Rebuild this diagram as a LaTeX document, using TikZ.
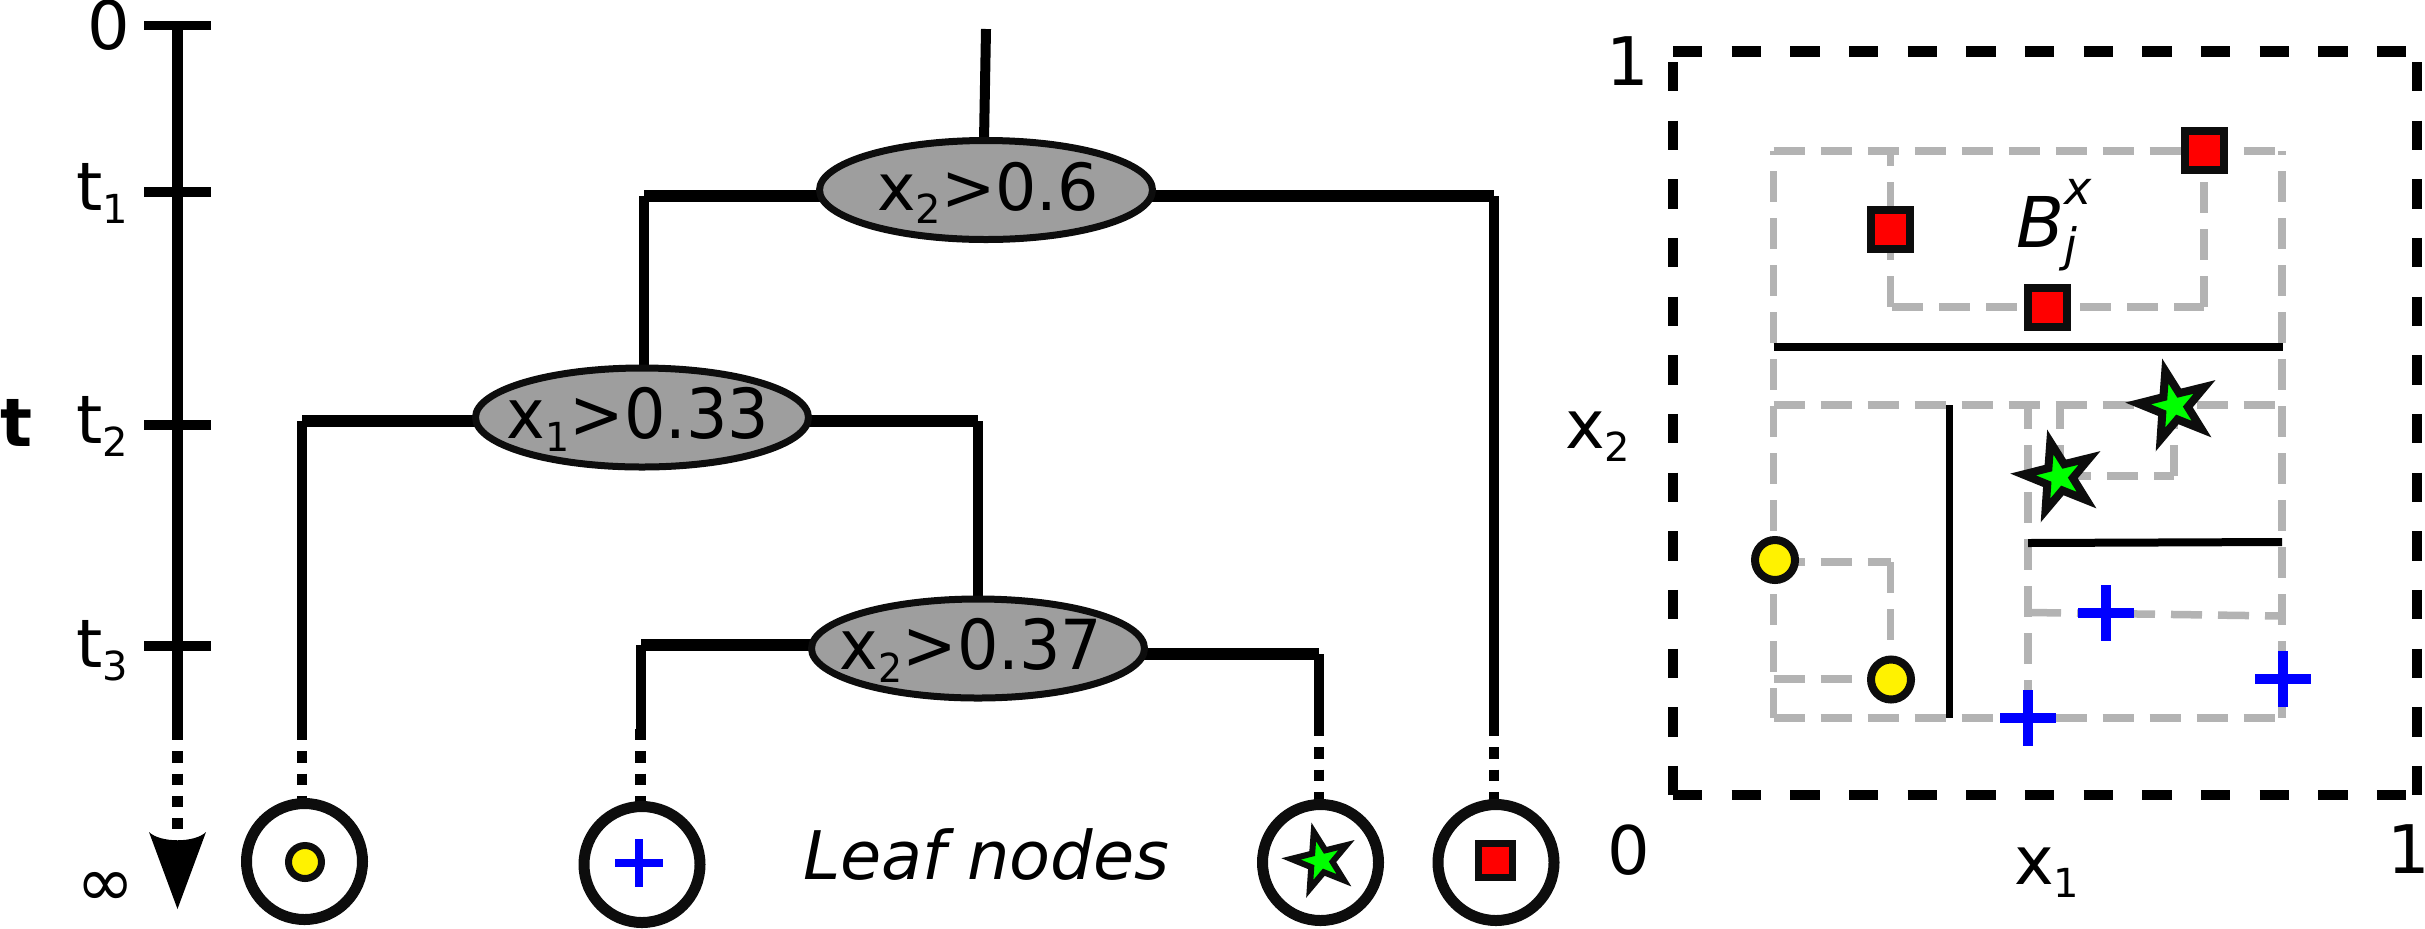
\documentclass[tikz,border=0pt]{standalone}
\usepackage{fontspec}
\setmainfont{DejaVu Sans}
\usetikzlibrary{shapes.geometric,backgrounds}
\newcommand\lowsub[1]{\raisebox{-6.5pt}{\fontsize{20}{24}\selectfont #1}}
\tikzset{
  lbl/.style={anchor=base west,inner sep=0pt,outer sep=0pt,font=\fontsize{33.5}{40}\selectfont},
  ell/.style={ellipse,draw=black!95,fill=ellgray,line width=3.5pt,inner sep=0pt,outer sep=0pt,minimum width=166.5pt,minimum height=49.5pt,text height=25pt,text depth=4.3pt,font=\fontsize{32.5}{40}\selectfont},
  tall/.style={font=\fontsize{34.5}{40}\selectfont},
  branch/.style={line width=5.25pt,black},
  hbranch/.style={line width=5.7pt,black},
  vbranch/.style={line width=5pt,black},
  leafdash/.style={line width=5.25pt,black,dash pattern=on 5.6pt off 5.55pt},
  tick/.style={line width=4.6pt,black},
  leaf/.style={circle,draw=black!95,fill=white,line width=5.5pt,inner sep=0pt,outer sep=0pt,minimum size=58pt},
  dot/.style={circle,draw=black!95,fill=yellow,inner sep=0pt,outer sep=0pt},
  sq/.style={rectangle,draw=black!95,fill=red,inner sep=0pt,outer sep=0pt},
  starmark/.style={star,star points=5,star point ratio=2.6,shape border rotate=14,draw=black!95,fill=green,inner sep=0pt,outer sep=0pt},
  frameline/.style={line width=5.2pt,black,dash pattern=on 14.7pt off 14.63pt},
  gridline/.style={line width=3.75pt,boxgray,dash pattern=on 15.5pt off 8pt},
  split/.style={line width=4pt,black},
  crossbar/.style={line width=5.3pt,blue},
}
\definecolor{ellgray}{HTML}{9E9E9E}
\definecolor{boxgray}{HTML}{B3B3B3}
\begin{document}
\begin{tikzpicture}[x=0.5pt,y=-0.5pt]
\useasboundingbox (0,0) rectangle (2425,928);
% time axis
\coordinate (axTop) at (177.5,26);
\coordinate (axSolid) at (177.5,729);
\coordinate (axDash) at (177.5,830);
\coordinate (tickA) at (144,25.7);\coordinate (tickAe) at (211,25.7);
\coordinate (tickB) at (144,192);\coordinate (tickBe) at (211,192);
\coordinate (tickC) at (144,425);\coordinate (tickCe) at (211,425);
\coordinate (tickD) at (144,646);\coordinate (tickDe) at (211,646);
\draw[branch] (axTop) -- (axSolid);
\draw[leafdash] (axSolid) -- (axDash);
\draw[tick] (tickA) -- (tickAe);
\draw[tick] (tickB) -- (tickBe);
\draw[tick] (tickC) -- (tickCe);
\draw[tick] (tickD) -- (tickDe);
\fill[black] (149,832) .. controls (160,843) and (195,843) .. (206,832) -- (177.5,909) -- cycle;
\node[lbl] (lzero) at (87,49) {0};
\node[lbl] (lt1) at (76,210) {t\lowsub{1}};
\node[lbl] (lt2) at (76,443) {t\lowsub{2}};
\node[lbl] (lt3) at (76,667) {t\lowsub{3}};
\node[lbl] (lbt) at (0,446) {\bfseries t};
\node[lbl,font=\fontsize{35}{42}\selectfont] (linf) at (76.5,906) {∞};
% tree nodes
\node[ell] (e1) at (986,190) {\makebox[0pt]{x\lowsub{2}>0.6\kern-2pt}};
\node[ell,tall] (e2) at (642,417.5) {\makebox[0pt]{\scalebox{.945}[1]{x\lowsub{1}>0.33}\kern4pt}};
\node[ell,tall] (e3) at (978,648.5) {\makebox[0pt]{\scalebox{.945}[1]{x\lowsub{2}>0.37}\kern7pt}};
\node[leaf] (l1) at (304.5,861.5) {};
\node[leaf] (l2) at (642,864.5) {};
\node[leaf] (l3) at (1320.5,862.5) {};
\node[leaf] (l4) at (1496,862.5) {};
\node[dot,line width=3.5pt,minimum size=16.5pt] (m1) at (305,862) {};
\draw[crossbar,line width=4.4pt] (639,863) +(-24,0) -- +(24,0) +(0,-24) -- +(0,24);
\node[starmark,line width=3pt,minimum size=30pt] (m3) at (1321,861) {};
\node[sq,line width=3.3pt,minimum size=17.2pt] (m4) at (1495.5,860.5) {};
\node[lbl] (leafcap) at (803,879) {\itshape Leaf nodes};
% tree connectors
\coordinate (rootTop) at (986,29);
\coordinate (cA) at (302,421);\coordinate (dA) at (302,729);
\coordinate (cB) at (644,196);
\coordinate (cC) at (1494,196);\coordinate (dC) at (1494,725);
\coordinate (cD) at (977.5,421);
\coordinate (cE) at (640.5,645);\coordinate (dE) at (640.5,729);
\coordinate (cF) at (1319,654);\coordinate (dF) at (1319,725);
\begin{scope}[on background layer]
\draw[vbranch] (rootTop) -- ([xshift=-1pt]e1.north);
\draw[hbranch] (e1 |- cB) -- (cB);
\draw[vbranch] (cB) -- (cB |- e2.north);
\draw[hbranch] (e1 |- cC) -- (cC);
\draw[vbranch] (cC) -- (dC);
\draw[hbranch] (e2 |- cA) -- (cA);
\draw[branch] (cA) -- (dA);
\draw[hbranch] (e2 |- cD) -- (cD);
\draw[vbranch] (cD) -- (cD |- e3.north);
\draw[hbranch] (e3 |- cE) -- (cE);
\draw[vbranch] (cE) -- (dE);
\draw[hbranch] (e3 |- cF) -- (cF);
\draw[vbranch] (cF) -- (dF);
\draw[leafdash] (dA) -- (dA |- l1.north);
\draw[leafdash] (dE) -- (dE |- l2.north);
\draw[leafdash] (dF) -- (dF |- l3.north);
\draw[leafdash] (dC) -- (dC |- l4.north);
\end{scope}
% feature space frame
\draw[frameline] (1673,51.5) -- (2417,51.5);
\draw[frameline] (1673,795) -- (2417,795);
\draw[frameline] (1673,62) -- (1673,796);
\draw[frameline] (2417,62) -- (2417,796);
% grey boxes
\draw[gridline] (1773.5,151) -- (2282,151);
\draw[gridline] (1773.5,405) -- (2282,405);
\draw[gridline] (1773.5,718) -- (2282,718);
\draw[gridline,dash phase=13.5pt] (1773.5,151) -- (1773.5,718);
\draw[gridline,dash phase=13.5pt] (2282,151) -- (2282,718);
\draw[gridline,dash phase=8pt] (1890.5,151) -- (1890.5,307);
\draw[gridline,dash phase=8pt] (2204,151) -- (2204,307);
\draw[gridline] (1892,307) -- (2204,307);
\draw[gridline,dash phase=3.5pt] (2028,405) -- (2028,718);
\draw[gridline,dash phase=3.5pt] (2060,405) -- (2060,476);
\draw[gridline,dash phase=3.5pt] (2174,405) -- (2174,476);
\draw[gridline] (2060,476) -- (2174,476);
\draw[gridline] (1773.5,562) -- (1890.5,562);
\draw[gridline] (1890.5,562) -- (1890.5,679);
\draw[gridline] (1773.5,679) -- (1890.5,679);
\draw[gridline] (2030,612.5) -- (2282,616);
% split lines
\draw[split] (1773.5,346.7) -- (2282.5,346.7);
\draw[split] (2028,543) -- (2282,542);
\draw[split,line width=3.75pt] (1949.6,405) -- (1949.6,718);
% markers
\node[sq,line width=4pt,minimum size=19.5pt] (s1) at (2204.5,150.5) {};
\node[sq,line width=4pt,minimum size=19.5pt] (s2) at (1890,229.5) {};
\node[sq,line width=4pt,minimum size=19.5pt] (s3) at (2047.5,307.5) {};
\node[starmark,line width=4pt,minimum size=36pt] (st1) at (2174,406) {};
\node[starmark,line width=4pt,minimum size=36pt] (st2) at (2059,477) {};
\node[dot,line width=4pt,minimum size=20pt] (d1) at (1775,560) {};
\node[dot,line width=4pt,minimum size=20pt] (d2) at (1891,679.5) {};
\draw[crossbar] (2106,613) +(-28,0) -- +(28,0) +(0,-28) -- +(0,28);
\draw[crossbar] (2283,679) +(-28,0) -- +(28,0) +(0,-28) -- +(0,28);
\draw[crossbar] (2028,718) +(-28,0) -- +(28,0) +(0,-28) -- +(0,28);
% labels
\node[lbl] (yone) at (1606,85) {1};
\node[lbl] (yzero) at (1607,874) {0};
\node[lbl] (xone) at (2387,873) {\makebox[17.5pt][l]{1}};
\node[lbl] (xtwo) at (1565,448) {x\lowsub{2}};
\node[lbl] (xonel) at (2014,884) {x\lowsub{1}};
\node[lbl,font=\fontsize{35}{42}\selectfont\itshape] (bjx) at (2016,247) {B\rlap{\raisebox{21.5pt}{\fontsize{23}{28}\selectfont x}}\raisebox{-7pt}{\fontsize{23}{28}\selectfont j}};
\end{tikzpicture}
\end{document}
